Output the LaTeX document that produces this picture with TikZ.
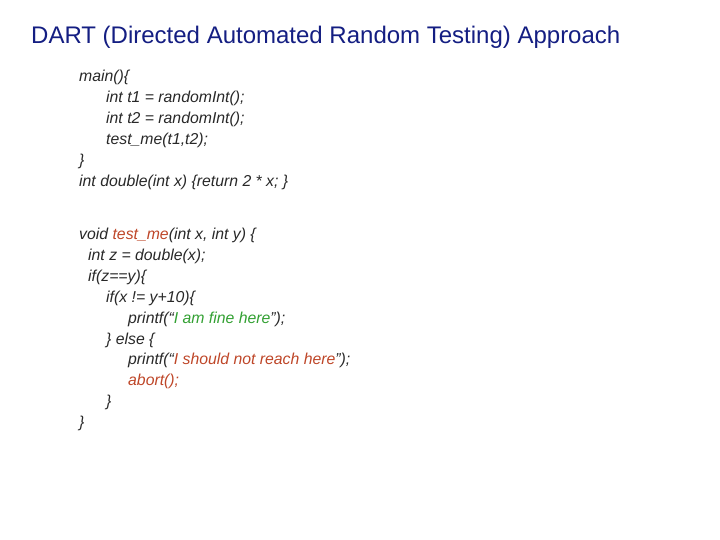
\documentclass[tikz,border=0pt]{standalone}
\usepackage{fontspec}
\setmainfont{Liberation Sans}
\usepackage{xcolor}
\definecolor{titleblue}{RGB}{20,30,130}
\definecolor{okgreen}{RGB}{50,160,50}
\definecolor{badred}{RGB}{190,70,40}
\definecolor{codegray}{RGB}{40,40,40}
\begin{document}
\begin{tikzpicture}[x=1pt,y=-1pt,
        code/.style={anchor=west,inner sep=0pt,text=codegray,font=\fontsize{15.8}{18}\selectfont\itshape}]
        \useasboundingbox (0,0) rectangle (720,540);

        \node[anchor=west,inner sep=0pt,text=titleblue,font=\fontsize{24}{28}\selectfont]
            (title) at (31,37) {DART (Directed Automated Random Testing) Approach};

        \node[code] (m1) at (79,77)  {main()\{};
        \node[code] (m2) at (106,98) {int t1 = randomInt();};
        \node[code] (m3) at (106,119) {int t2 = randomInt();};
        \node[code] (m4) at (106,140) {test\_me(t1,t2);};
        \node[code] (m5) at (79,161) {\}};
        \node[code] (d1) at (79,182) {int double(int x) \{return 2 * x; \}};

        \node[code] (t1) at (79,235) {void \textcolor{badred}{test\_me}(int x, int y) \{};
        \node[code] (t2) at (88,256) {int z = double(x);};
        \node[code] (t3) at (88,277) {if(z==y)\{};
        \node[code] (t4) at (106,298) {if(x != y+10)\{};
        \node[code] (t5) at (128,319) {printf(``\textcolor{okgreen}{I am fine here}'');};
        \node[code] (t6) at (106,340) {\} else \{};
        \node[code] (t7) at (128,360) {printf(``\textcolor{badred}{I should not reach here}'');};
        \node[code,text=badred] (t8) at (128,381) {abort();};
        \node[code] (t9) at (106,402) {\}};
        \node[code] (t10) at (79,423) {\}};
\end{tikzpicture}
\end{document}
